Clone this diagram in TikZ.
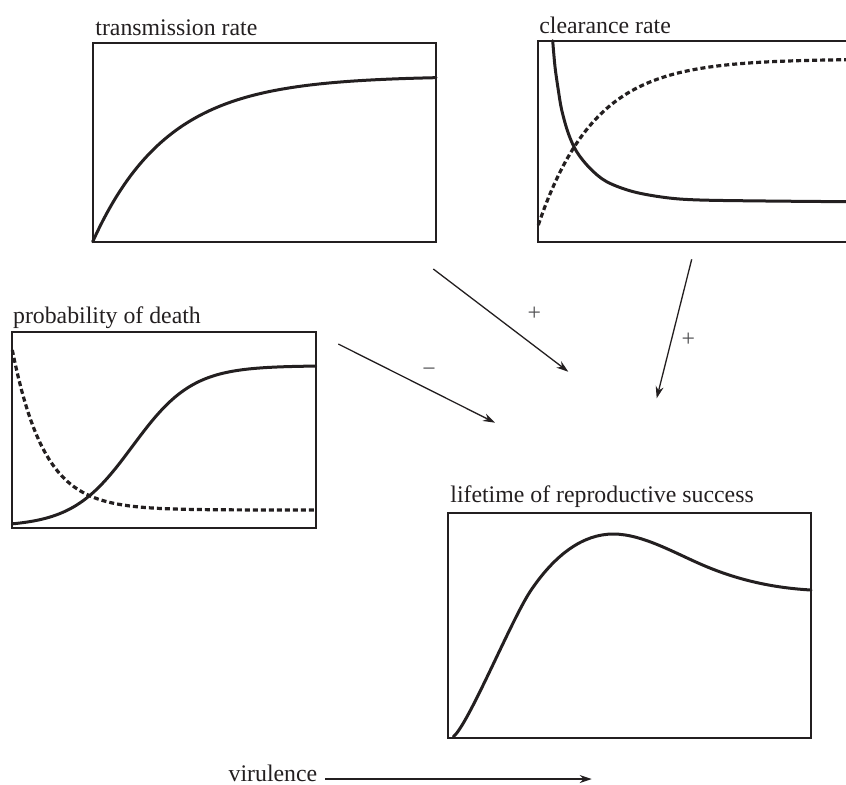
\documentclass[tikz,border=0pt]{standalone}
\usepackage{fontspec}
\setmainfont{Liberation Serif}
\usepackage{xcolor}
\usepackage{tikz}
\usetikzlibrary{arrows.meta}
\definecolor{ink}{HTML}{231F20}
\definecolor{soft}{HTML}{4D4D4F}
\tikzset{
  frame/.style={draw=ink, line width=1pt},
  curve/.style={draw=ink, line width=1.5pt, line cap=round, line join=round},
  dots/.style={draw=ink, line width=1.6pt, dash pattern=on 2.5pt off 1.5pt},
  link/.style={draw=ink, line width=0.65pt, -{Stealth[length=6pt,width=4pt]}},
  lab/.style={anchor=base west, inner sep=0pt, text=ink, font=\fontsize{11.9}{14}\selectfont},
  sign/.style={inner sep=0pt, text=soft, font=\fontsize{11.9}{14}\selectfont},
}
\begin{document}
\begin{tikzpicture}[x=0.5pt,y=-0.5pt]
  \useasboundingbox (0,0) rectangle (846,784);
  \begin{scope}
  \clip (0,0) rectangle (846,784);
  % transmission rate
  \draw[frame] (92.7,43.3) rectangle (436,241.7);
  \node[lab] (transLab) at (95,35) {transmission rate};
  \draw[curve] plot[domain=92.7:436, samples=100]
    (\x,{241.7-165.7*(1-exp(-4.6*(\x-92.7)/343.3))});
  % clearance rate
  \draw[frame] (538.3,40.7) rectangle (850,241.7);
  \node[lab] (clearLab) at (539,33.3) {clearance rate};
  \draw[curve] plot[smooth, tension=0.55] coordinates {
    (552.7,40.7) (555,66.7) (558.3,90) (561.7,110) (568.3,133.3)
    (576.7,151.7) (590,168.3) (606.7,181.7) (633.3,191.7) (666.7,197.7)
    (700,200) (766.7,201) (848,201.7)};
  \draw[dots] plot[domain=538.3:848, samples=100]
    (\x,{225-166*(1-exp(-(\x-538.3)/56.5))});
  % probability of death
  \draw[frame] (12.3,332.3) rectangle (315.7,528.3);
  \node[lab] (deathLab) at (12.7,323.3) {probability of death};
  \draw[curve] plot[domain=12.3:315.7, samples=100]
    (\x,{526.7-161/(1+exp(-(\x-132.5)/30))});
  \draw[dots] plot[domain=12.3:315.7, samples=100]
    (\x,{510-160*exp(-(\x-12.3)/32)});
  % lifetime of reproductive success
  \draw[frame] (448.3,513.3) rectangle (811,738.3);
  \node[lab] (fitLab) at (450,502.7) {lifetime of reproductive success};
  \draw[curve] (453.3,736.7) .. controls (468.3,724.7) and (510,622.7) .. (530,591.7)
    .. controls (555,554.2) and (583.3,534) .. (613.3,534)
    .. controls (643.3,534) and (676.7,554.3) .. (706.7,566.7)
    .. controls (741.7,581.2) and (776,588) .. (811,590);
  \end{scope}
  % links
  \coordinate (transOut) at (433.3,269);
  \coordinate (transIn) at (568.3,371.7);
  \coordinate (clearOut) at (691.7,259.3);
  \coordinate (clearIn) at (656.7,398.3);
  \coordinate (deathOut) at (338.3,344);
  \coordinate (deathIn) at (495,422.7);
  \draw[link] (transOut) -- (transIn);
  \draw[link] (clearOut) -- (clearIn);
  \draw[link] (deathOut) -- (deathIn);
  \node[sign] (transSign) at (534.3,314) {+};
  \node[sign] (clearSign) at (688.3,339.3) {+};
  \node[sign] (deathSign) at (429,372.3) {−};
  % virulence axis
  \node[lab] (virLab) at (228.3,781.5) {virulence};
  \coordinate (virOut) at (325,779);
  \coordinate (virIn) at (591.7,779);
  \draw[link] (virOut) -- (virIn);
\end{tikzpicture}
\end{document}
